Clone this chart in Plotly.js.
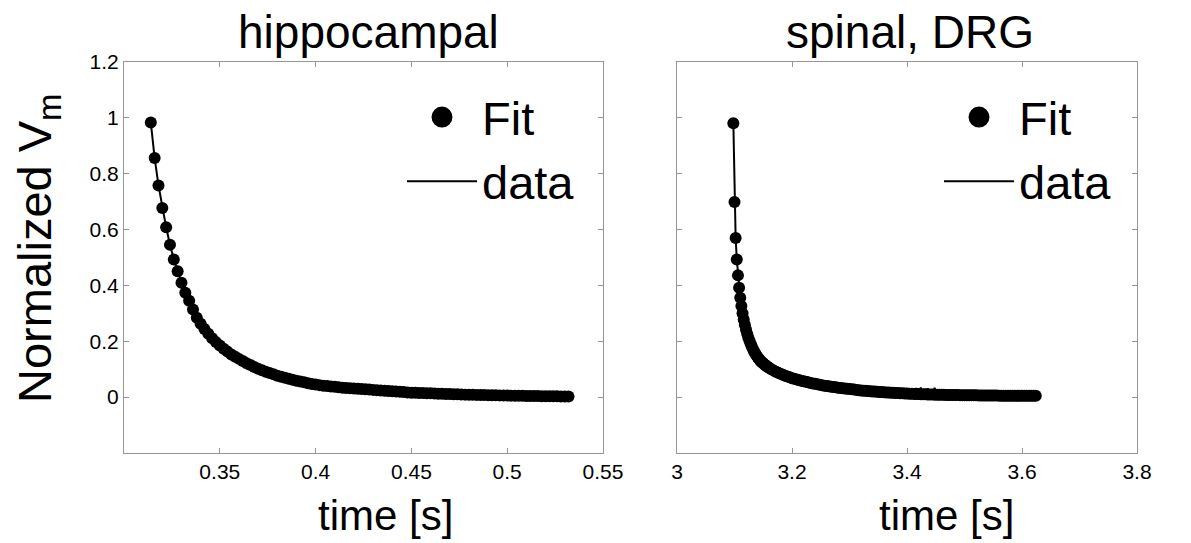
<!DOCTYPE html>
<html>
<head>
<meta charset="utf-8">
<script src="https://cdn.plot.ly/plotly-3.0.1.min.js"></script>
<style>html,body{margin:0;padding:0;background:#fff;}#chart{width:1191px;height:543px;}</style>
</head>
<body>
<div id="chart"></div>
<script>
// ---- Data ----
const panelTitles = ["hippocampal", "spinal, DRG"];
const seriesNames = ["Fit", "data"];
const xTitle = "time [s]";
const yTitle = "Normalized V<sub>m</sub>";

// hippocampal: time [s] and normalized Vm
const timeL = [0.314,0.316,0.318,0.320,0.322,0.324,0.326,0.328,0.330,0.332,0.334,0.336,0.338,0.340,0.342,0.344,0.346,0.348,0.350,0.352,
0.354,0.356,0.358,0.360,0.362,0.364,0.366,0.368,0.370,0.372,0.374,0.376,0.378,0.380,0.382,0.384,0.386,0.388,0.390,0.392,
0.394,0.396,0.398,0.400,0.402,0.404,0.406,0.408,0.410,0.412,0.414,0.416,0.418,0.420,0.422,0.424,0.426,0.428,0.430,0.432,
0.434,0.436,0.438,0.440,0.442,0.444,0.446,0.448,0.450,0.452,0.454,0.456,0.458,0.460,0.462,0.464,0.466,0.468,0.470,0.472,
0.474,0.476,0.478,0.480,0.482,0.484,0.486,0.488,0.490,0.492,0.494,0.496,0.498,0.500,0.502,0.504,0.506,0.508,0.510,0.512,
0.514,0.516,0.518,0.520,0.522,0.524,0.526,0.528,0.530,0.532];
const fitL = [0.983,0.856,0.758,0.677,0.608,0.546,0.493,0.451,0.410,0.374,0.345,0.314,0.284,0.263,0.244,0.227,0.211,0.197,0.185,0.173,
0.163,0.153,0.145,0.137,0.129,0.121,0.115,0.108,0.102,0.096,0.091,0.086,0.082,0.077,0.073,0.069,0.066,0.062,0.059,0.056,
0.053,0.050,0.047,0.045,0.043,0.041,0.040,0.038,0.037,0.035,0.034,0.033,0.032,0.031,0.030,0.029,0.028,0.027,0.026,0.025,
0.024,0.023,0.022,0.021,0.020,0.019,0.018,0.017,0.016,0.0155,0.015,0.0145,0.014,0.0135,0.013,0.0125,0.012,0.0115,0.011,0.0105,
0.010,0.0095,0.009,0.0087,0.0084,0.0081,0.0078,0.0075,0.0072,0.0069,0.0066,0.0063,0.006,0.0057,0.0054,0.0051,0.0048,0.0046,0.0044,0.0042,
0.004,0.0038,0.0036,0.0034,0.0032,0.003,0.0028,0.0027,0.0026,0.0025];
const dataL = fitL;

// spinal, DRG: time [s] and normalized Vm
const timeR = [3.098,3.100,3.102,3.104,3.106,3.108,3.110,3.112,3.114,3.116,3.118,3.120,3.122,3.124,3.126,3.128,3.130,3.132,3.134,3.136,
3.138,3.140,3.142,3.144,3.146,3.148,3.150,3.152,3.154,3.156,3.158,3.160,3.164,3.168,3.172,3.176,3.180,3.184,3.188,3.192,
3.196,3.200,3.204,3.208,3.212,3.216,3.220,3.224,3.228,3.232,3.236,3.240,3.244,3.248,3.252,3.256,3.260,3.264,3.268,3.272,
3.276,3.280,3.284,3.288,3.292,3.296,3.300,3.304,3.308,3.312,3.316,3.320,3.324,3.328,3.332,3.336,3.340,3.344,3.348,3.352,
3.356,3.360,3.364,3.368,3.372,3.376,3.380,3.384,3.388,3.392,3.396,3.400,3.404,3.408,3.412,3.416,3.420,3.424,3.428,3.432,
3.436,3.440,3.444,3.448,3.452,3.456,3.460,3.464,3.468,3.472,3.476,3.480,3.484,3.488,3.492,3.496,3.500,3.504,3.508,3.512,
3.516,3.520,3.524,3.528,3.532,3.536,3.540,3.544,3.548,3.552,3.556,3.560,3.564,3.568,3.572,3.576,3.580,3.584,3.588,3.592,
3.596,3.600,3.604,3.608,3.612,3.616,3.620,3.624];
const fitR = [0.981,0.699,0.570,0.493,0.436,0.392,0.356,0.326,0.300,0.278,0.259,0.242,0.227,0.214,0.202,0.191,0.181,0.172,0.164,0.157,
0.150,0.144,0.138,0.133,0.128,0.124,0.121,0.117,0.114,0.111,0.108,0.105,0.100,0.095,0.091,0.087,0.084,0.080,0.077,0.074,
0.071,0.068,0.066,0.063,0.061,0.059,0.057,0.055,0.053,0.051,0.049,0.048,0.046,0.044,0.043,0.041,0.040,0.039,0.037,0.036,
0.035,0.034,0.033,0.032,0.031,0.030,0.029,0.028,0.027,0.026,0.025,0.024,0.023,0.0225,0.022,0.021,0.0205,0.020,0.019,0.0185,
0.018,0.0175,0.017,0.0165,0.016,0.0155,0.015,0.0145,0.014,0.0135,0.013,0.0127,0.0124,0.012,0.0117,0.0114,0.011,0.0107,0.0104,0.010,
0.0097,0.0094,0.0092,0.009,0.0088,0.0086,0.0084,0.0082,0.008,0.0078,0.0077,0.0076,0.0074,0.0073,0.0072,0.007,0.0069,0.0068,0.0067,0.0066,
0.0065,0.0064,0.0063,0.0062,0.0061,0.006,0.0059,0.0058,0.0057,0.0056,0.0055,0.0054,0.0053,0.0053,0.0052,0.0052,0.0051,0.0051,0.005,0.005,
0.005,0.005,0.005,0.005,0.005,0.005,0.005,0.005];
const dataR = [0.981,0.699,0.570,0.493,0.436,0.392,0.356,0.326,0.300,0.278,0.259,0.242,0.227,0.214,0.202,0.191,0.181,0.172,0.164,0.157,
0.150,0.144,0.138,0.133,0.128,0.124,0.121,0.117,0.114,0.111,0.108,0.105,0.100,0.095,0.091,0.087,0.084,0.080,0.077,0.074,
0.071,0.068,0.066,0.063,0.061,0.059,0.057,0.055,0.053,0.051,0.049,0.048,0.046,0.044,0.043,0.041,0.040,0.039,0.037,0.036,
0.035,0.034,0.033,0.032,0.031,0.030,0.029,0.028,0.027,0.026,0.025,0.024,0.023,0.0225,0.022,0.021,0.0205,0.020,0.019,0.0185,
0.018,0.0175,0.017,0.0165,0.016,0.0155,0.015,0.0145,0.014,0.0135,0.013,0.0127,0.0124,0.012,0.0117,0.032,0.011,0.034,0.0104,0.010,
0.031,0.0094,0.0092,0.033,0.0088,0.0086,0.0084,0.0082,0.008,0.0078,0.0077,0.0076,0.0074,0.0073,0.0072,0.007,0.0069,0.0068,0.0067,0.0066,
0.0065,0.0064,0.0063,0.0062,0.0061,0.006,0.0059,0.0058,0.0057,0.0056,0.0055,0.0054,0.0053,0.0053,0.0052,0.0052,0.0051,0.0051,0.005,0.005,
0.005,0.005,0.005,0.005,0.005,0.005,0.005,0.005];

// axis ticks
const yTicks = [0, 0.2, 0.4, 0.6, 0.8, 1, 1.2];
const yTickText = ["0", "0.2", "0.4", "0.6", "0.8", "1", "1.2"];
const xTicksL = [0.35, 0.4, 0.45, 0.5, 0.55];
const xTicksR = [3, 3.2, 3.4, 3.6, 3.8];

// ---- Styling ----
const FONT = "Liberation Sans, Arial, Helvetica, sans-serif";
const AX = "rgb(150,150,150)";
const W = 1191, H = 543;
const px = v => v / W, py = v => 1 - v / H;

function mkX(domain, range, ticks) {
  return {
    domain: domain, range: range, tickvals: ticks, ticktext: ticks.map(String),
    showline: true, linecolor: AX, linewidth: 1, mirror: 'ticks',
    ticks: 'inside', ticklen: 5, tickcolor: AX, tickwidth: 1,
    showgrid: false, zeroline: false, automargin: false,
    tickfont: {family: FONT, size: 21, color: '#000'}
  };
}
function mkY(showLabels, anchor) {
  return {
    domain: [py(453), py(62)], range: [-0.2, 1.2], tickvals: yTicks, ticktext: yTickText,
    showticklabels: showLabels, anchor: anchor,
    showline: true, linecolor: AX, linewidth: 1, mirror: 'ticks',
    ticks: 'inside', ticklen: 5, tickcolor: AX, tickwidth: 1,
    showgrid: false, zeroline: false, automargin: false,
    tickfont: {family: FONT, size: 21, color: '#000'}
  };
}

const traces = [
  // legend-only symbols
  {x: [null], y: [null], type: 'scatter', mode: 'markers', name: seriesNames[0], legend: 'legend',
   marker: {color: '#000', size: 16, line: {color: '#000', width: 5}}, hoverinfo: 'skip'},
  {x: timeL, y: dataL, type: 'scatter', mode: 'lines', name: seriesNames[1], legend: 'legend',
   line: {color: '#000', width: 2}, xaxis: 'x', yaxis: 'y'},
  {x: timeL, y: fitL, type: 'scatter', mode: 'markers', name: seriesNames[0], showlegend: false,
   marker: {color: '#000', size: 12}, xaxis: 'x', yaxis: 'y'},

  {x: [null], y: [null], type: 'scatter', mode: 'markers', name: seriesNames[0], legend: 'legend2',
   xaxis: 'x2', yaxis: 'y2',
   marker: {color: '#000', size: 16, line: {color: '#000', width: 5}}, hoverinfo: 'skip'},
  {x: timeR, y: dataR, type: 'scatter', mode: 'lines', name: seriesNames[1], legend: 'legend2',
   line: {color: '#000', width: 2}, xaxis: 'x2', yaxis: 'y2'},
  {x: timeR, y: fitR, type: 'scatter', mode: 'markers', name: seriesNames[0], showlegend: false,
   marker: {color: '#000', size: 12}, xaxis: 'x2', yaxis: 'y2'}
];

const legendBase = {
  xanchor: 'left', yanchor: 'top', bgcolor: 'rgba(0,0,0,0)', borderwidth: 0,
  font: {family: FONT, size: 47, color: '#000'}, itemwidth: 70, tracegroupgap: 0,
  traceorder: 'normal'
};

const bigFont = s => ({family: FONT, size: s, color: '#000'});

const layout = {
  width: W, height: H,
  margin: {l: 0, r: 0, t: 0, b: 0},
  paper_bgcolor: '#fff', plot_bgcolor: '#fff',
  showlegend: true,
  xaxis: mkX([px(124), px(603)], [0.3, 0.55], xTicksL),
  yaxis: mkY(true, 'x'),
  xaxis2: Object.assign(mkX([px(677), px(1137)], [3, 3.8], xTicksR), {anchor: 'y2'}),
  yaxis2: mkY(false, 'x2'),
  legend: Object.assign({}, legendBase, {x: px(402), y: py(80)}),
  legend2: Object.assign({}, legendBase, {x: px(939), y: py(80)}),
  annotations: [
    {text: panelTitles[0], xref: 'paper', yref: 'paper', x: px(368), y: py(32), xanchor: 'center', yanchor: 'middle',
     showarrow: false, font: bigFont(46)},
    {text: panelTitles[1], xref: 'paper', yref: 'paper', x: px(910), y: py(32), xanchor: 'center', yanchor: 'middle',
     showarrow: false, font: bigFont(46)},
    {text: xTitle, xref: 'paper', yref: 'paper', x: px(385), y: py(515), xanchor: 'center', yanchor: 'middle',
     showarrow: false, font: bigFont(42)},
    {text: xTitle, xref: 'paper', yref: 'paper', x: px(946), y: py(515), xanchor: 'center', yanchor: 'middle',
     showarrow: false, font: bigFont(42)},
    {text: yTitle, xref: 'paper', yref: 'paper', x: px(38), y: py(248), xanchor: 'center', yanchor: 'middle',
     textangle: -90, showarrow: false, font: bigFont(47)}
  ]
};

Plotly.newPlot('chart', traces, layout, {displayModeBar: false, staticPlot: true});
</script>
</body>
</html>
